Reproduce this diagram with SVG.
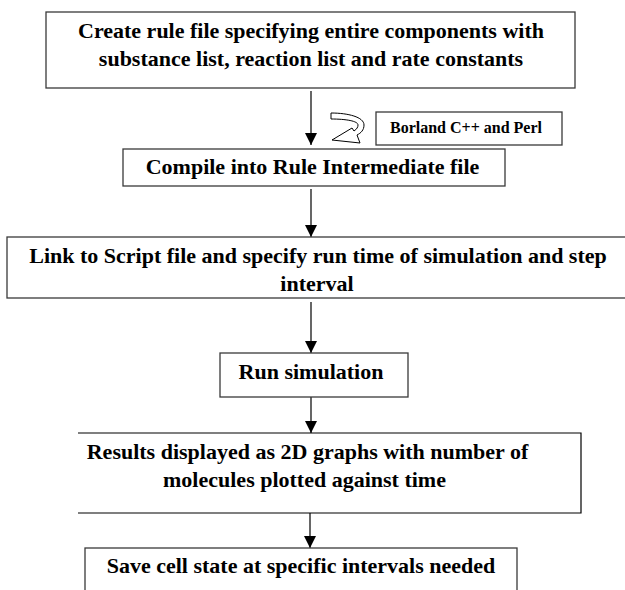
<svg xmlns="http://www.w3.org/2000/svg" width="625" height="590" viewBox="0 0 625 590">
  <style>
    .box { fill: #ffffff; stroke: #3a3a3a; stroke-width: 1.3; }
    .edge { fill: none; stroke: #000000; stroke-width: 1.2; }
    .lbl { font-family: "Liberation Serif", "Times New Roman", serif; font-weight: bold; font-size: 22px; fill: #000000; text-anchor: middle; }
    .small { font-size: 16px; }
    .conn { fill: none; stroke: #000000; stroke-width: 1.2; }
  </style>
  <defs>
    <marker id="arrow" viewBox="0 0 12 12" refX="12" refY="6" markerWidth="12" markerHeight="12" markerUnits="userSpaceOnUse" orient="auto">
      <path d="M0,0 L12,6 L0,12 Z" fill="#000000"/>
    </marker>
  </defs>

  <rect width="625" height="590" fill="#ffffff"/>

  <!-- connectors between the steps -->
  <g id="connectors">
    <line class="conn" x1="311" y1="91" x2="311" y2="145" marker-end="url(#arrow)"/>
    <line class="conn" x1="311" y1="189" x2="311" y2="237" marker-end="url(#arrow)"/>
    <line class="conn" x1="311" y1="302" x2="311" y2="353" marker-end="url(#arrow)"/>
    <line class="conn" x1="311" y1="397" x2="311" y2="433" marker-end="url(#arrow)"/>
    <line class="conn" x1="310" y1="513" x2="310" y2="548" marker-end="url(#arrow)"/>
  </g>

  <!-- step 1 -->
  <g id="create-rule-file">
    <rect class="box" x="46" y="12" width="529" height="76"/>
    <text class="lbl" x="311" y="37.5">Create rule file specifying entire components with</text>
    <text class="lbl" x="311" y="65.5">substance list, reaction list and rate constants</text>
  </g>

  <!-- tool note with hollow curved arrow -->
  <g id="tools-note">
    <path d="M331,113 C348,113 364,117 364,125 C364,130 361,133 357,135 L360,143 L332,140 L352,128 L354,131 C357,129 358,127 358,125 C358,121 346,119 331,119 Z" fill="#ffffff" stroke="#000000" stroke-width="1"/>
    <rect class="box" x="376" y="112" width="186" height="33" stroke="#000000"/>
    <text class="lbl small" x="466" y="133">Borland C++ and Perl</text>
  </g>

  <!-- step 2 -->
  <g id="compile">
    <rect class="box" x="123" y="149" width="382" height="37"/>
    <text class="lbl" x="312.5" y="174">Compile into Rule Intermediate file</text>
  </g>

  <!-- step 3 -->
  <g id="link-script">
    <rect class="box" x="7" y="237" width="619" height="61"/>
    <text class="lbl" x="318" y="263">Link to Script file and specify run time of simulation and step</text>
    <text class="lbl" x="317" y="291">interval</text>
  </g>

  <!-- step 4 -->
  <g id="run-simulation">
    <rect class="box" x="220" y="353" width="188" height="44"/>
    <text class="lbl" x="311" y="379">Run simulation</text>
  </g>

  <!-- step 5 (open on the left) -->
  <g id="results">
    <path class="edge" d="M78,433 H581 V513 H78"/>
    <text class="lbl" x="307.5" y="459">Results displayed as 2D graphs with number of</text>
    <text class="lbl" x="304.5" y="487">molecules plotted against time</text>
  </g>

  <!-- step 6 -->
  <g id="save-state">
    <rect class="box" x="85" y="548" width="432" height="50"/>
    <text class="lbl" x="301" y="573">Save cell state at specific intervals needed</text>
  </g>
</svg>
